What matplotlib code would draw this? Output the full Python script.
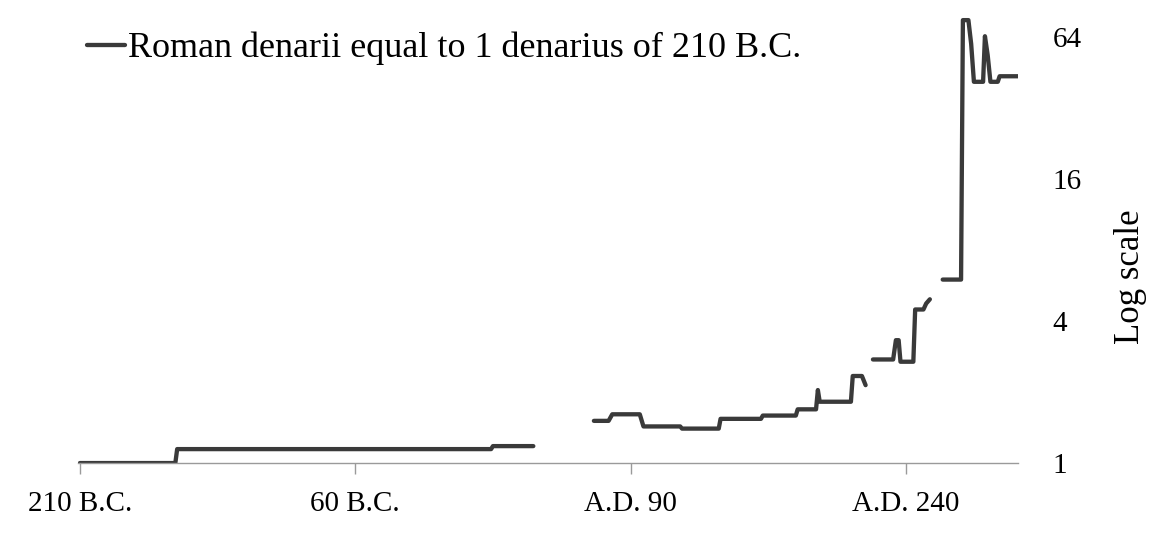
import numpy as np
import matplotlib
matplotlib.use("Agg")
import matplotlib.pyplot as plt
from matplotlib.ticker import FixedLocator, NullLocator

plt.rcParams['font.family'] = ['Liberation Serif', 'DejaVu Serif']

# Years (negative = B.C.), NaN marks gaps in the record
years = [-210, -158, -157, 14, 15, 37, np.nan,
         70, 78, 80, 95, 97, 117, 118, 138, 139, 161, 162, 180, 181, 191, 192, 193, 210, 211, 216, 218, np.nan,
         222, 233, 234.5, 236, 237, 244, 245, 249.5, 251, 253, np.nan,
         260, 270, 271, 274, 275.5, 277, 282, 283, 284.5, 286, 290, 291, 301]
values = [1.0, 1.0, 1.146, 1.146, 1.18, 1.18, np.nan,
          1.51, 1.51, 1.61, 1.61, 1.43, 1.43, 1.40, 1.40, 1.54, 1.54, 1.59, 1.59, 1.69, 1.69, 2.04, 1.82, 1.82, 2.34, 2.34, 2.14, np.nan,
          2.75, 2.75, 3.32, 3.32, 2.69, 2.69, 4.48, 4.48, 4.75, 4.95, np.nan,
          6.0, 6.0, 75.6, 75.6, 60.0, 41.4, 41.4, 64.6, 53.7, 41.4, 41.4, 43.7, 43.7]

x_ticks = [-210, -60, 90, 240]
x_labels = ["210 B.C.", "60 B.C.", "A.D. 90", "A.D. 240"]
y_ticks = [1, 4, 16, 64]
y_labels = ["1", "4", "16", "64"]
series_label = "Roman denarii equal to 1 denarius of 210 B.C."

fig = plt.figure(figsize=(11.56, 5.48), dpi=100)
ax = fig.add_axes([0.0675, 0.155, 0.8131, 0.816])

ax.plot(years, values, color='#3a3a3a', lw=3.1, solid_joinstyle='round',
        solid_capstyle='round', label=series_label)

ax.set_yscale('log', base=2)
ax.set_ylim(1, 2 ** 6.3)
ax.set_xlim(-211, 301)

ax.yaxis.set_major_locator(FixedLocator(y_ticks))
ax.yaxis.set_minor_locator(NullLocator())
ax.set_yticklabels(y_labels)
ax.yaxis.tick_right()
ax.yaxis.set_label_position('right')
ax.tick_params(axis='y', length=0, pad=25, labelsize=21)
ax.set_ylabel("Log scale", fontsize=25)
ax.yaxis.set_label_coords(1.102, 0.416)

ax.set_xticks(x_ticks)
ax.set_xticklabels(x_labels)
ax.tick_params(axis='x', length=8, width=1, color='#9a9a9a', labelsize=21, pad=12)

for s in ['top', 'left', 'right']:
    ax.spines[s].set_visible(False)
ax.spines['bottom'].set_color('#9a9a9a')
ax.spines['bottom'].set_linewidth(1)

leg = ax.legend(loc='upper left', bbox_to_anchor=(0.075, 0.942),
                bbox_transform=fig.transFigure, frameon=False, fontsize=26,
                handlelength=1.05, handletextpad=0.1, borderaxespad=0, borderpad=0)

fig.savefig("out.png", dpi=100)
